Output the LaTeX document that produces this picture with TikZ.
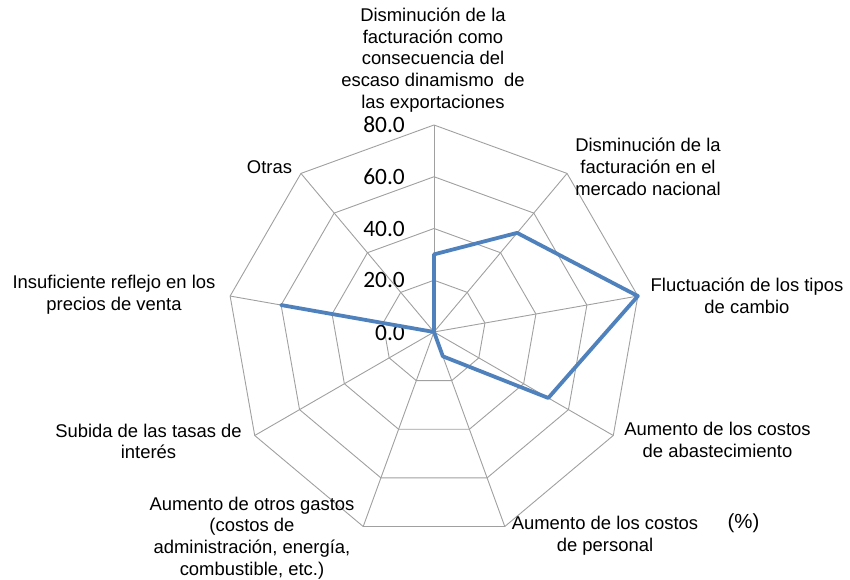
\documentclass[tikz,border=0pt]{standalone}
\usepackage{fontspec}
\setmainfont{Liberation Sans}
\newfontfamily\calibrifont{Carlito}
\usepackage{tikz}
\usetikzlibrary{positioning,calc}
\usepackage{xcolor}
\definecolor{serieblue}{RGB}{79,129,189}
\definecolor{gridgray}{RGB}{160,160,160}

\begin{document}
\begin{tikzpicture}[
    x=1bp, y=1bp,
    gridline/.style={draw=gridgray, line width=0.9bp},
    serie/.style={draw=serieblue, line width=3.8bp, line join=round},
    axislabel/.style={align=center, inner sep=0pt, font=\fontsize{18.5}{21.8}\selectfont},
    ticklabel/.style={anchor=east, inner sep=0pt, font=\calibrifont\fontsize{23.5}{26}\selectfont}
]
\useasboundingbox (-434,-248) rectangle (416,332);

\foreach \r in {20,40,60,80}{
    \draw[gridline] (90:{\r*2.5875}) \foreach \k in {1,...,8}{ -- ({90-\k*40}:{\r*2.5875})} -- cycle;
    \node[ticklabel] (tick\r) at (-29,{\r*2.5875}) {\r.0};
}
\foreach \k in {0,...,8}
    \draw[gridline] (0,0) -- ({90-\k*40}:207);
\node[ticklabel] (tick0) at (-29,-1) {0.0};

\foreach \v [count=\k from 0] in {30,50,80,51,10,0,0,60,0}
    \coordinate (p\k) at ({90-\k*40}:{\v*2.5875});
\draw[serie] (p0) -- (p1) -- (p2) -- (p3) -- (p4) -- (p5) -- (p6) -- (p7) -- (p8) -- cycle;

\node[axislabel] (export) at (-1,272) {Disminución de la\\facturación como\\consecuencia del\\escaso dinamismo\ \ de\\las exportaciones};
\node[axislabel] (nacional) at (214,165) {Disminución de la\\facturación en el\\mercado nacional};
\node[axislabel] (cambio) at (313,36) {Fluctuación de los tipos\\de cambio};
\node[axislabel] (abast) at (283.5,-108) {Aumento de los costos\\de abastecimiento};
\node[axislabel] (personal) at (171,-204) {Aumento de los costos\\de personal};
\node[axislabel] (gastos) at (-182,-206) {Aumento de otros gastos\\(costos de\\administración, energía,\\combustible, etc.)};
\node[axislabel] (tasas) at (-285.5,-109.5) {Subida de las tasas de\\interés};
\node[axislabel] (precios) at (-320,37) {Insuficiente reflejo en los\\precios de venta};
\node[axislabel] (otras) at (-164.5,164.5) {Otras};
\node[axislabel, font=\fontsize{20.5}{24}\selectfont] (unit) at (309.5,-191) {(\%)};
\end{tikzpicture}
\end{document}
